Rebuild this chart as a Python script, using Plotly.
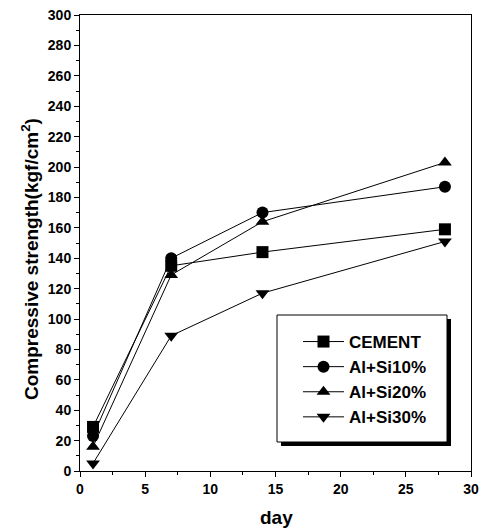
import plotly.graph_objects as go

days = [1, 7, 14, 28]
cement = [29, 135, 144, 159]
alsi10 = [23, 140, 170, 187]
alsi20 = [16, 129, 164, 203]
alsi30 = [5, 89, 117, 151]
names = ["CEMENT", "Al+Si10%", "Al+Si20%", "Al+Si30%"]
symbols = ["square", "circle", "triangle-up", "triangle-down"]
x_title = "day"
y_title = "Compressive strength(kgf/cm<sup>2</sup>)"

fig = go.Figure()
for i, (name, vals, sym) in enumerate(zip(names, [cement, alsi10, alsi20, alsi30], symbols)):
    fig.add_trace(go.Scatter(
        x=days, y=vals, name=name, mode="lines+markers",
        line=dict(color="black", width=1),
        marker=dict(symbol=sym, size=12, color="black"),
    ))

L, R, T, B = 80, 10, 15, 59
W, H = 481, 530
pw, ph = W - L - R, H - T - B

def px(x):
    return (x - L) / pw

def py(y):
    return 1 - (y - T) / ph

# legend box with shadow
fig.add_shape(type="rect", xref="paper", yref="paper",
              x0=px(281), x1=px(451), y0=py(446), y1=py(319),
              fillcolor="black", line=dict(width=0), layer="above")
fig.add_shape(type="rect", xref="paper", yref="paper",
              x0=px(277), x1=px(447), y0=py(442), y1=py(315),
              fillcolor="white", line=dict(color="black", width=1), layer="above")

FONT = "Arial, Liberation Sans"
axis_common = dict(
    showline=True, linecolor="black", linewidth=1, mirror=True,
    ticks="outside", ticklen=5, tickcolor="black", tickwidth=1,
    showgrid=False, zeroline=False, automargin=False,
    tickfont=dict(family=FONT, size=14, color="black", weight="bold"),
)
fig.update_xaxes(range=[0, 30], dtick=5, tick0=0,
                 minor=dict(ticks="outside", ticklen=3, dtick=2.5, tickcolor="black"),
                 **axis_common)
fig.update_yaxes(range=[0, 300], dtick=20, tick0=0,
                 minor=dict(ticks="outside", ticklen=3, dtick=10, tickcolor="black"),
                 **axis_common)

fig.add_annotation(text=f"<b>{x_title}</b>", xref="paper", yref="paper",
                   x=px(276), y=py(517), xanchor="center", yanchor="middle",
                   showarrow=False, font=dict(family=FONT, size=19, color="black"))
fig.add_annotation(text=f"<b>{y_title}</b>", xref="paper", yref="paper",
                   x=px(30), y=py(259), xanchor="center", yanchor="middle", textangle=-90,
                   showarrow=False, font=dict(family=FONT, size=19, color="black"))

fig.update_layout(
    width=W, height=H,
    margin=dict(l=L, r=R, t=T, b=B, autoexpand=False),
    paper_bgcolor="white", plot_bgcolor="white",
    showlegend=True,
    legend=dict(x=px(298), y=py(324), xanchor="left", yanchor="top",
                bgcolor="rgba(0,0,0,0)", borderwidth=0,
                font=dict(family=FONT, size=17, color="black", weight="bold"),
                itemwidth=41),
)

fig.write_html("out.html", config={"displayModeBar": False},
               post_script="document.body.style.margin='0';document.body.style.padding='0';")
